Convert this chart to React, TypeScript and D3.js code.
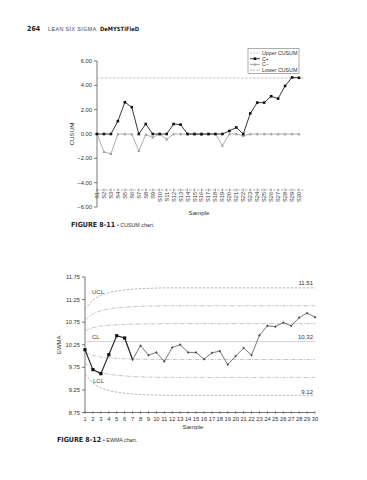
import React from 'react';
import * as d3 from 'd3';

// CUSUM chart (figure 8-11)
const samples = d3.range(1, 31).map(i => 'S' + i);
const cPlus = [0, 0, 0, 1.06, 2.61, 2.2, 0, 0.82, 0, 0, 0, 0.82, 0.77, 0, 0, 0, 0, 0, 0, 0.25, 0.54, 0, 1.69, 2.58, 2.58, 3.1, 2.91, 3.95, 4.65, 4.62];
const cMinus = [0, -1.47, -1.63, 0, 0, 0, -1.39, -0.05, -0.27, 0, -0.43, 0, 0, 0, 0, -0.06, 0, 0, -0.95, 0, 0, -0.14, 0, 0, 0, 0, 0, 0, 0, 0];
const upperCusum = 4.6;
const lowerCusum = -4.6;
const cusumTicks = [-6, -4, -2, 0, 2, 4, 6];
const legendItems = ['Upper CUSUM', 'C+', 'C\u2212', 'Lower CUSUM'];

// EWMA chart (figure 8-12)
const ewma = [10.14, 9.7, 9.61, 10.03, 10.45, 10.4, 9.92, 10.23, 10.02, 10.08, 9.88, 10.19, 10.25, 10.08, 10.08, 9.93, 10.07, 10.11, 9.81, 10.0, 10.18, 10.02, 10.46, 10.67, 10.65, 10.74, 10.67, 10.85, 10.95, 10.86];
const limitSpread = [0.6, 0.77, 0.86, 0.91, 0.94, 0.96, 0.975, 0.985, 0.99, 0.995, 1, 1, 1, 1, 1, 1, 1, 1, 1, 1, 1, 1, 1, 1, 1, 1, 1, 1, 1, 1];
const centerLine = 10.32;
const ucl = 11.51;
const lcl = 9.12;
const ewmaTicks = [8.75, 9.25, 9.75, 10.25, 10.75, 11.25, 11.75];

const font = '"Liberation Sans", Arial, sans-serif';
const narrow = '"Liberation Sans Narrow", "DejaVu Sans Condensed", sans-serif';

const CusumChart = () => {
    const x = d3.scalePoint<string>().domain(samples).range([97, 299]);
    const y = d3.scaleLinear().domain([-6, 6]).range([207, 61]);
    const line = d3.line<number>().x((d, i) => x(samples[i])!).y(d => y(d));
    const axisY = y(lowerCusum);

    return (
        <g fontFamily={font}>
            {/* y axis */}
            <line x1={97} x2={97} y1={y(6)} y2={y(-6)} stroke="#555" strokeWidth={0.8} />
            {cusumTicks.map(t => (
                <g key={t}>
                    <line x1={94} x2={97} y1={y(t)} y2={y(t)} stroke="#555" strokeWidth={0.8} />
                    <text x={92} y={y(t) + 2} fontSize={5.8} textAnchor="end" fill="#333">
                        {t < 0 ? '\u2212' + Math.abs(t).toFixed(2) : t.toFixed(2)}
                    </text>
                </g>
            ))}
            <text transform={`translate(74,${y(0)}) rotate(-90)`} fontSize={6.2} textAnchor="middle" fill="#333">CUSUM</text>

            {/* limit lines */}
            <line x1={97} x2={304} y1={y(upperCusum)} y2={y(upperCusum)} stroke="#aaa" strokeWidth={0.7} strokeDasharray="2.5,1.5" />
            <line x1={97} x2={304} y1={axisY} y2={axisY} stroke="#888" strokeWidth={0.7} strokeDasharray="2.5,1.5" />

            {/* category axis */}
            {samples.map(s => (
                <g key={s}>
                    <line x1={x(s)} x2={x(s)} y1={axisY - 1.5} y2={axisY + 1.5} stroke="#666" strokeWidth={0.6} />
                    <text transform={`translate(${x(s)! + 2},${axisY + 2}) rotate(-90)`} fontSize={5.6} textAnchor="end" fill="#333">{s}</text>
                </g>
            ))}
            <text x={199} y={215} fontSize={6.2} textAnchor="middle" fill="#333">Sample</text>

            {/* series */}
            <path d={line(cMinus)!} fill="none" stroke="#999" strokeWidth={0.8} />
            {cMinus.map((v, i) => {
                const cx = x(samples[i])!, cy = y(v);
                return <path key={i} d={`M${cx},${cy - 1.5}L${cx + 1.5},${cy + 1.2}L${cx - 1.5},${cy + 1.2}Z`} fill="#999" />;
            })}
            <path d={line(cPlus)!} fill="none" stroke="#222" strokeWidth={0.9} />
            {cPlus.map((v, i) => (
                <rect key={i} x={x(samples[i])! - 1.3} y={y(v) - 1.3} width={2.6} height={2.6} fill="#111" />
            ))}

            {/* legend */}
            <rect x={248} y={48.5} width={51} height={25} fill="#fff" stroke="#777" strokeWidth={0.6} />
            {legendItems.map((name, i) => {
                const ly = 53 + i * 5.7;
                return (
                    <g key={name}>
                        {i === 0 || i === 3 ? (
                            <line x1={250} x2={260} y1={ly} y2={ly} stroke={i === 0 ? '#aaa' : '#888'} strokeWidth={0.7} strokeDasharray="2,1.2" />
                        ) : (
                            <line x1={250} x2={260} y1={ly} y2={ly} stroke={i === 1 ? '#222' : '#999'} strokeWidth={0.9} />
                        )}
                        {i === 1 && <rect x={253.7} y={ly - 1.3} width={2.6} height={2.6} fill="#111" />}
                        {i === 2 && <path d={`M255,${ly - 1.5}L256.5,${ly + 1.2}L253.5,${ly + 1.2}Z`} fill="#999" />}
                        <text x={262} y={ly + 1.9} fontSize={5.3} fill="#333">{name}</text>
                    </g>
                );
            })}
        </g>
    );
};

const EwmaChart = () => {
    const x = d3.scaleLinear().domain([1, 30]).range([85, 315]);
    const y = d3.scaleLinear().domain([8.75, 11.75]).range([412.5, 277]);
    const sigma = (ucl - centerLine) / 3;
    const limitLine = (k: number) =>
        d3.line<number>().x((d, i) => x(i + 1)).y(d => y(centerLine + k * sigma * d)).curve(d3.curveMonotoneX)(limitSpread)!;
    const pts = ewma.map((v, i) => [x(i + 1), y(v)] as [number, number]);
    const seg = d3.line();

    return (
        <g fontFamily={font}>
            {/* axes */}
            <line x1={85} x2={85} y1={y(11.75)} y2={y(8.75)} stroke="#555" strokeWidth={0.8} />
            {ewmaTicks.map(t => (
                <g key={t}>
                    <line x1={82} x2={85} y1={y(t)} y2={y(t)} stroke="#555" strokeWidth={0.8} />
                    <text x={80} y={y(t) + 2} fontSize={5.8} textAnchor="end" fill="#333">{t.toFixed(2)}</text>
                </g>
            ))}
            <line x1={85} x2={315} y1={y(8.75)} y2={y(8.75)} stroke="#555" strokeWidth={0.8} />
            {ewma.map((_, i) => (
                <g key={i}>
                    <line x1={x(i + 1)} x2={x(i + 1)} y1={y(8.75) - 1.5} y2={y(8.75) + 1.5} stroke="#555" strokeWidth={0.6} />
                    <text x={x(i + 1)} y={y(8.75) + 8} fontSize={5.8} textAnchor="middle" fill="#333">{i + 1}</text>
                </g>
            ))}
            <text x={193} y={429} fontSize={6.2} textAnchor="middle" fill="#333">Sample</text>
            <text transform={`translate(61,${y(10.25)}) rotate(-90)`} fontSize={6} textAnchor="middle" fill="#333">EWMA</text>

            {/* limits */}
            <line x1={85} x2={315} y1={y(centerLine)} y2={y(centerLine)} stroke="#c8c8c8" strokeWidth={0.8} />
            {[3, -3].map(k => (
                <path key={k} d={limitLine(k)} fill="none" stroke="#999" strokeWidth={0.7} strokeDasharray="2.5,1.5" />
            ))}
            {[2, 1, -1, -2].map(k => (
                <path key={k} d={limitLine(k)} fill="none" stroke="#aaa" strokeWidth={0.7} strokeDasharray="4,1.2,1,1.2" />
            ))}
            <text x={92} y={294} fontSize={6} fill="#444">UCL</text>
            <text x={92} y={339} fontSize={6} fill="#444">CL</text>
            <text x={93} y={383} fontSize={6} fill="#444">LCL</text>
            <text x={313} y={285} fontSize={6} textAnchor="end" fill="#333">{ucl.toFixed(2)}</text>
            <text x={313} y={339} fontSize={6} textAnchor="end" fill="#333">{centerLine.toFixed(2)}</text>
            <text x={313} y={394} fontSize={6} textAnchor="end" fill="#333">{lcl.toFixed(2)}</text>

            {/* data */}
            <path d={seg(pts.slice(5))!} fill="none" stroke="#555" strokeWidth={0.8} />
            <path d={seg(pts.slice(0, 7))!} fill="none" stroke="#222" strokeWidth={1.1} />
            {pts.map(([cx, cy], i) =>
                i < 6 ? (
                    <rect key={i} x={cx - 1.6} y={cy - 1.6} width={3.2} height={3.2} fill="#111" />
                ) : (
                    <path key={i} d={`M${cx},${cy - 1.4}L${cx + 1.2},${cy}L${cx},${cy + 1.4}L${cx - 1.2},${cy}Z`} fill="#444" />
                )
            )}
        </g>
    );
};

const Caption = ({ x, y, num, label }: { x: number; y: number; num: string; label: string }) => (
    <text x={x} y={y} fill="#222">
        <tspan fontFamily={narrow} fontWeight="bold" fontSize={7}>{'FIGURE ' + num}</tspan>
        <tspan fontFamily={font} fontSize={5.3} fill="#333" dx={2}>{'\u2022 ' + label}</tspan>
    </text>
);

export default function App() {
    return (
        <svg width={367} height={480} style={{ position: 'absolute', left: 0, top: 0, background: '#fff' }}>
            <rect width={367} height={480} fill="#fff" />
            {/* page header */}
            <text y={31} fill="#222">
                <tspan x={27} fontFamily={narrow} fontWeight="bold" fontSize={7}>264</tspan>
                <tspan x={48} fontFamily={font} fontSize={5.4} fill="#444" letterSpacing={0.4}>LEAN SIX SIGMA</tspan>
                <tspan x={100} fontFamily={narrow} fontWeight="bold" fontSize={5.8}>DeMYSTiFieD</tspan>
            </text>

            <CusumChart />
            <Caption x={71} y={227} num="8-11" label="CUSUM chart." />

            <EwmaChart />
            <Caption x={57} y={442} num="8-12" label="EWMA chart." />
        </svg>
    );
}
